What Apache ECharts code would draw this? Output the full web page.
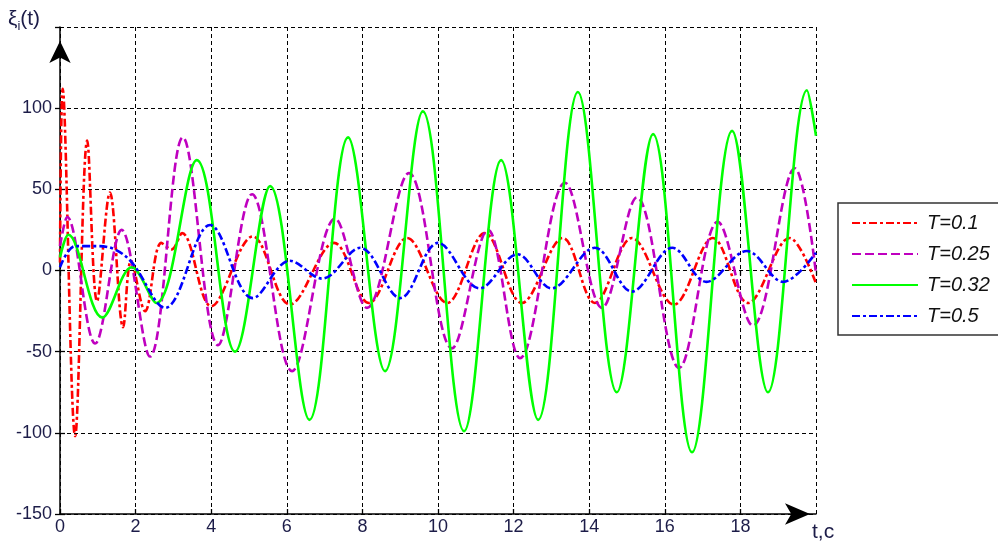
<!DOCTYPE html>
<html>
<head>
<meta charset="utf-8">
<script src="https://cdn.jsdelivr.net/npm/echarts@6/dist/echarts.min.js"></script>
<style>
html,body{margin:0;padding:0;background:#fff;}
#chart{width:998px;height:543px;}
</style>
</head>
<body>
<div id="chart"></div>
<script>
// ---- data ----
const seriesNames = ['T=0.1', 'T=0.25', 'T=0.32', 'T=0.5'];
const xTicks = [0, 2, 4, 6, 8, 10, 12, 14, 16, 18, 20];
const yTicks = [-150, -100, -50, 0, 50, 100, 150];

const tRed = [0, 0.07, 0.4, 0.72, 0.98, 1.32, 1.67, 1.88, 2.25, 2.68, 2.95, 3.23, 4.0, 5.1, 6.08, 7.25, 8.17, 9.18, 10.24, 11.24, 12.22, 13.3, 14.15, 15.13, 16.24, 17.27, 18.2, 19.3, 20];
const vRed = [5, 112, -102, 80, -19, 48, -35, 6, -25, 17, 13, 23, -22, 21, -21, 17, -20, 20, -20, 23, -20, 20, -20, 20, -21, 20, -20, 20, -8];

const tMag = [0, 0.19, 0.93, 1.63, 2.38, 3.25, 4.18, 5.08, 6.14, 7.28, 8.12, 9.23, 10.37, 11.32, 12.17, 13.36, 14.34, 15.26, 16.38, 17.4, 18.33, 19.44, 20];
const vMag = [15, 33, -45, 25, -53, 82, -46, 47, -62, 32, -23, 60, -48, 25, -54, 54, -23, 45, -60, 30, -34, 63, -2];

const tGreen = [0, 0.22, 1.12, 1.9, 2.55, 3.62, 4.63, 5.56, 6.6, 7.62, 8.6, 9.6, 10.69, 11.67, 12.65, 13.7, 14.73, 15.69, 16.72, 17.78, 18.73, 19.76, 20];
const vGreen = [8, 22, -29, 2, -20, 68, -50, 52, -92, 82, -62, 98, -99, 68, -92, 110, -75, 84, -112, 86, -75, 111, 83];

const tBlue = [0, 0.4, 1.0, 1.45, 1.9, 2.78, 3.97, 5.1, 6.08, 6.93, 7.94, 9.0, 10.0, 11.1, 12.1, 13.0, 14.15, 15.13, 16.2, 17.1, 18.17, 19.13, 20];
const vBlue = [2, 15, 15, 13, 5, -23, 28, -17, 6, -5, 14, -17, 17, -11, 10, -11, 14, -13, 14, -7, 12, -7, 11];

// ---- build ----
const zip = (t, v) => t.map((x, i) => [x, v[i]]);
const FONT = 'Arial, "Liberation Sans", sans-serif';
const LABEL_COLOR = '#1c1c48';

const chart = echarts.init(document.getElementById('chart'), null, {renderer: 'canvas'});

const gridLine = {show: true, lineStyle: {color: '#000', width: 1, type: [4, 3]}};

function mkSeries(name, data, color, dash) {
  return {
    name: name, type: 'line', data: data, smooth: 0.36,
    showSymbol: false, symbol: 'none', symbolSize: 0,
    xAxisIndex: 0, yAxisIndex: 0,
    lineStyle: {color: color, width: 2.6, type: dash, cap: 'butt'},
    itemStyle: {color: color},
    emphasis: {disabled: true},
    animation: false, z: 3
  };
}

const option = {
  animation: false,
  backgroundColor: '#fff',
  grid: {left: 60, right: 182, top: 27, bottom: 29, containLabel: false},
  xAxis: [{
    type: 'value', min: xTicks[0], max: xTicks[xTicks.length - 1], interval: 2,
    position: 'bottom',
    axisLine: {onZero: false, lineStyle: {color: '#000', width: 1.5},
      symbol: ['none', 'arrow'], symbolSize: [16, 25], symbolOffset: [0, -6]},
    axisTick: {inside: true, length: 5, lineStyle: {color: '#000', width: 1.3}},
    axisLabel: {showMaxLabel: false, color: LABEL_COLOR, fontSize: 18, fontFamily: FONT, margin: 4},
    splitLine: gridLine
  }, {
    type: 'value', min: xTicks[0], max: xTicks[xTicks.length - 1], interval: 2,
    position: 'top',
    axisLine: {show: false},
    axisTick: {inside: true, length: 5, lineStyle: {color: '#000', width: 1.3}},
    axisLabel: {show: false}, splitLine: {show: false}
  }],
  yAxis: [{
    type: 'value', min: yTicks[0], max: yTicks[yTicks.length - 1], interval: 50,
    position: 'left',
    axisLine: {onZero: false, lineStyle: {color: '#000', width: 1.5},
      symbol: ['none', 'arrow'], symbolSize: [16, 22], symbolOffset: [0, -14]},
    axisTick: {inside: true, length: 5, lineStyle: {color: '#000', width: 1.3}},
    axisLabel: {showMaxLabel: false, color: LABEL_COLOR, fontSize: 18, fontFamily: FONT, margin: 8},
    splitLine: gridLine
  }, {
    type: 'value', min: yTicks[0], max: yTicks[yTicks.length - 1], interval: 50,
    position: 'right',
    axisLine: {show: false},
    axisTick: {inside: true, length: 5, lineStyle: {color: '#000', width: 1.3}},
    axisLabel: {show: false}, splitLine: {show: false}
  }],
  legend: {
    orient: 'vertical', left: 838, top: 203,
    backgroundColor: '#fff', borderColor: '#333', borderWidth: 1.5,
    padding: [10, 14, 9, 13],
    itemWidth: 66, itemHeight: 14, itemGap: 11,
    itemStyle: {opacity: 0},
    textStyle: {fontFamily: FONT, fontSize: 20, fontStyle: 'italic', color: '#111', padding: [0, 0, 0, 4]},
    data: seriesNames, selectedMode: false, z: 10
  },
  graphic: [{
    type: 'text', left: 8, top: 9, z: 10,
    style: {
      text: 'ξ{s|i}(t)', fill: LABEL_COLOR, font: '21px ' + FONT,
      rich: {s: {fontSize: 13, fontFamily: FONT, fill: LABEL_COLOR, verticalAlign: 'bottom', padding: [13, 0, 0, 0]}}
    }
  }, {
    type: 'text', left: 812, top: 522, z: 10,
    style: {text: 't,c', fill: LABEL_COLOR, font: '21px ' + FONT}
  }],
  series: [
    mkSeries(seriesNames[0], zip(tRed, vRed), '#ff0000', [8, 3, 3, 3]),
    mkSeries(seriesNames[1], zip(tMag, vMag), '#bf00bf', [9, 4]),
    mkSeries(seriesNames[2], zip(tGreen, vGreen), '#00ff00', 'solid'),
    mkSeries(seriesNames[3], zip(tBlue, vBlue), '#0000ff', [8, 3, 3, 3])
  ]
};
chart.setOption(option);
</script>
</body>
</html>
